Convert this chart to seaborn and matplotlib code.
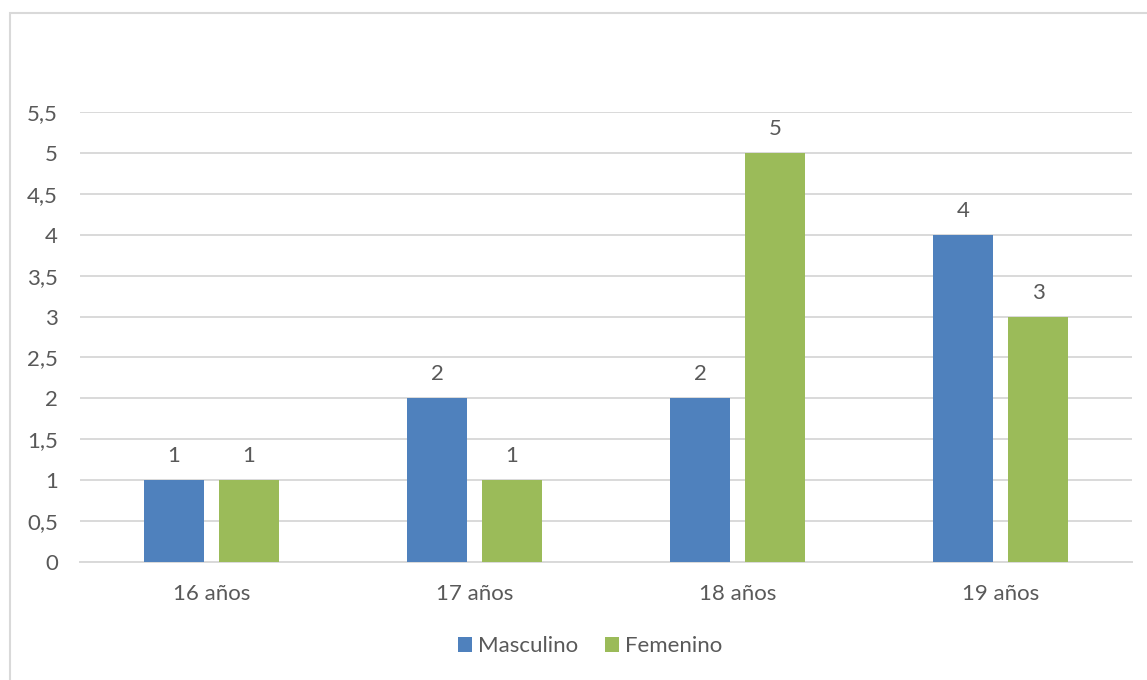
import matplotlib
matplotlib.use("Agg")
import matplotlib.pyplot as plt
from matplotlib.patches import Rectangle
from matplotlib.ticker import FuncFormatter, MultipleLocator
import seaborn as sns
import pandas as pd

# Data
categories = ["16 años", "17 años", "18 años", "19 años"]
series_names = ["Masculino", "Femenino"]
masculino = [1, 2, 2, 4]
femenino = [1, 1, 5, 3]

df = pd.DataFrame({
    "edad": categories * 2,
    "sexo": [series_names[0]] * 4 + [series_names[1]] * 4,
    "valor": masculino + femenino,
})

sns.set_theme(style="white")
plt.rcParams["font.family"] = ["Lato", "DejaVu Sans"]
text_color = "#595959"
grid_color = "#d9d9d9"
palette = {"Masculino": "#4f81bd", "Femenino": "#9bbb59"}
fs = 16

W, H = 1147, 680
fig = plt.figure(figsize=(W / 100, H / 100), dpi=100)
ax = fig.add_axes([80 / W, 1 - 562 / H, (1132 - 80) / W, (562 - 112) / H])

sns.barplot(data=df, x="edad", y="valor", hue="sexo", order=categories,
            hue_order=series_names, palette=palette, width=0.57, gap=0.21,
            saturation=1, linewidth=0, ax=ax, legend=True, zorder=3)

ax.set_ylim(0, 5.5)
ax.yaxis.set_major_locator(MultipleLocator(0.5))
ax.yaxis.set_major_formatter(FuncFormatter(
    lambda v, _: (f"{v:g}").replace(".", ",")))
ax.grid(axis="y", color=grid_color, linewidth=1.4, zorder=0)
ax.set_axisbelow(True)
for s in ["top", "right", "left"]:
    ax.spines[s].set_visible(False)
ax.spines["bottom"].set_color(grid_color)
ax.spines["bottom"].set_linewidth(1.4)
ax.set_xlabel("")
ax.set_ylabel("")
ax.tick_params(axis="y", colors=text_color, labelsize=fs, length=0, pad=16)
ax.tick_params(axis="x", colors=text_color, labelsize=fs, length=0, pad=16)

for cont in ax.containers:
    ax.bar_label(cont, fmt="%g", padding=10, fontsize=fs, color=text_color)

leg = ax.legend(loc="center", bbox_to_anchor=(590 / W, 1 - 646 / H),
                bbox_transform=fig.transFigure, ncol=2, frameon=False,
                fontsize=fs, handlelength=0.65, handleheight=0.65,
                handletextpad=0.25, columnspacing=1.2)
for t in leg.get_texts():
    t.set_color(text_color)

# Chart frame
fig.add_artist(Rectangle((10 / W, -0.1), 1.2, 1 - 13 / H + 0.1,
                         transform=fig.transFigure, fill=False,
                         edgecolor=grid_color, linewidth=1.5))

fig.savefig("out.png", dpi=100, facecolor="white")
